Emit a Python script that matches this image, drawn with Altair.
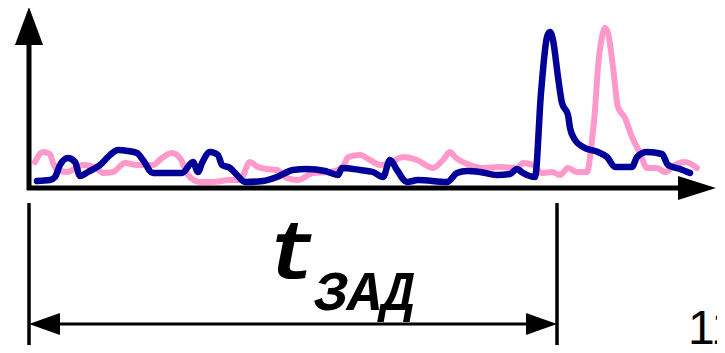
import altair as alt
import pandas as pd

# Schematic: time offset from the vertical axis (arbitrary units), signal amplitude (arbitrary units)
blue_t = [8, 21, 26, 31, 39, 46, 51, 59, 71, 81, 89, 99, 108, 114, 124, 138, 153, 164, 169, 173,
          181, 189, 193, 201, 208, 216, 234, 248, 264, 278, 296, 309, 313, 331, 344, 354, 361, 368,
          378, 389, 418, 428, 438, 451, 468, 481, 488, 494, 506, 512, 518, 521, 524, 529, 533, 539,
          541, 546, 554, 569, 578, 586, 603, 608, 618, 633, 639, 651, 661]
blue_a = [7, 8, 11, 23, 30, 26, 12, 16, 23, 33, 38, 37, 35, 28, 15, 15, 15, 26, 16, 25,
          36, 33, 23, 20, 13, 6, 7, 11, 18, 19, 17, 13, 20, 18, 16, 11, 28, 18,
          6, 8, 6, 15, 17, 16, 13, 14, 19, 15, 11, 95, 151, 156, 148, 111, 85, 73,
          60, 48, 41, 36, 31, 21, 21, 31, 36, 34, 23, 19, 15]

pink_t = [6, 14, 21, 24, 29, 38, 54, 66, 74, 84, 96, 108, 124, 133, 143, 151, 159, 171, 184, 201,
          211, 221, 229, 238, 248, 258, 269, 284, 301, 314, 319, 331, 341, 351, 361, 374, 388, 404,
          414, 421, 426, 441, 454, 471, 488, 494, 504, 513, 523, 531, 539, 548, 558, 563, 566, 569,
          573, 576, 579, 584, 589, 596, 603, 611, 618, 628, 636, 646, 656, 668]
pink_a = [26, 36, 34, 25, 18, 16, 23, 21, 15, 16, 25, 23, 23, 30, 35, 30, 13, 6, 6, 8,
          8, 26, 21, 19, 18, 10, 8, 15, 16, 21, 31, 33, 28, 23, 25, 31, 28, 20,
          28, 36, 31, 23, 20, 21, 20, 25, 23, 15, 16, 13, 20, 16, 16, 48, 78, 121,
          151, 160, 155, 121, 81, 70, 51, 35, 20, 20, 16, 23, 26, 20]

t_zad = 528          # delay time shown by the dimension arrow
label_main = "t"
label_sub = "ЗАД"
fig_label = "11"

MONO = "'Liberation Mono', 'Courier New', 'DejaVu Sans Mono', monospace"

W, H = 709, 337
xs = alt.Scale(domain=[-21, 688], nice=False, zero=False)
ys = alt.Scale(domain=[-157, 180], nice=False, zero=False)

def X(f="t"):
    return alt.X(f"{f}:Q", scale=xs, axis=None)

def Y(f="a"):
    return alt.Y(f"{f}:Q", scale=ys, axis=None)

blue = pd.DataFrame({"t": blue_t, "a": blue_a})
pink = pd.DataFrame({"t": pink_t, "a": pink_a})

pink_line = alt.Chart(pink).mark_line(color="#FF99CC", strokeWidth=6, interpolate="monotone",
                                      strokeCap="round", strokeJoin="round").encode(x=X(), y=Y())
blue_line = alt.Chart(blue).mark_line(color="#000099", strokeWidth=6.5, interpolate="monotone",
                                      strokeCap="round", strokeJoin="round").encode(x=X(), y=Y())

# axes (thick rules)
axes_df = pd.DataFrame({"t": [0, -2], "t2": [0, 649], "a": [-2, 0], "a2": [143, 0]})
axes = alt.Chart(axes_df).mark_rule(color="black", strokeWidth=5).encode(
    x=X("t"), x2="t2:Q", y=Y("a"), y2="a2:Q")

up_arrow = alt.Chart(pd.DataFrame({"t": [0], "a": [162]})).mark_point(
    shape="M0,-1L-0.74,1L0.74,1Z", size=1444, filled=True, color="black", opacity=1, strokeWidth=0
).encode(x=X(), y=Y())
right_arrow = alt.Chart(pd.DataFrame({"t": [668], "a": [0]})).mark_point(
    shape="M1,0L-1,-0.63L-1,0.63Z", size=1444, filled=True, color="black", opacity=1, strokeWidth=0
).encode(x=X(), y=Y())

# dimension lines
dim_v = pd.DataFrame({"t": [0, t_zad], "a": [-15, -15], "a2": [-170, -170]})
dim_vlines = alt.Chart(dim_v).mark_rule(color="black", strokeWidth=3.5).encode(
    x=X("t"), y=Y("a"), y2="a2:Q")
dim_h = pd.DataFrame({"t": [10], "t2": [t_zad - 10], "a": [-136]})
dim_hline = alt.Chart(dim_h).mark_rule(color="black", strokeWidth=3).encode(
    x=X("t"), x2="t2:Q", y=Y("a"))
left_head = alt.Chart(pd.DataFrame({"t": [15.5], "a": [-136]})).mark_point(
    shape="M-1,0L1,-0.71L1,0.71Z", size=961, filled=True, color="black", opacity=1, strokeWidth=0
).encode(x=X(), y=Y())
right_head = alt.Chart(pd.DataFrame({"t": [t_zad - 15.5], "a": [-136]})).mark_point(
    shape="M1,0L-1,-0.71L-1,0.71Z", size=961, filled=True, color="black", opacity=1, strokeWidth=0
).encode(x=X(), y=Y())

txt_main = alt.Chart(pd.DataFrame({"t": [263], "a": [-91], "s": [label_main]})).mark_text(
    font=MONO, fontSize=84, fontWeight="bold", fontStyle="italic",
    align="center", baseline="alphabetic", color="black"
).encode(x=X(), y=Y(), text="s:N")
txt_sub = alt.Chart(pd.DataFrame({"t": [336], "a": [-122], "s": [label_sub]})).mark_text(
    font=MONO, fontSize=56, fontWeight="bold", fontStyle="italic",
    align="center", baseline="alphabetic", color="black"
).encode(x=X(), y=Y(), text="s:N")
txt_fig = alt.Chart(pd.DataFrame({"t": [659], "a": [-156], "s": [fig_label]})).mark_text(
    font="'Liberation Sans', Arial, sans-serif", fontSize=48, align="left",
    baseline="alphabetic", color="black"
).encode(x=X(), y=Y(), text="s:N")

chart = alt.layer(
    axes, up_arrow, right_arrow, pink_line, blue_line,
    dim_vlines, dim_hline, left_head, right_head, txt_main, txt_sub, txt_fig
).properties(
    width=W, height=H, padding=0, autosize=alt.AutoSizeParams(type="none")
).configure_view(stroke=None)

chart.save("out.html", embed_options={"renderer": "svg", "actions": False})
